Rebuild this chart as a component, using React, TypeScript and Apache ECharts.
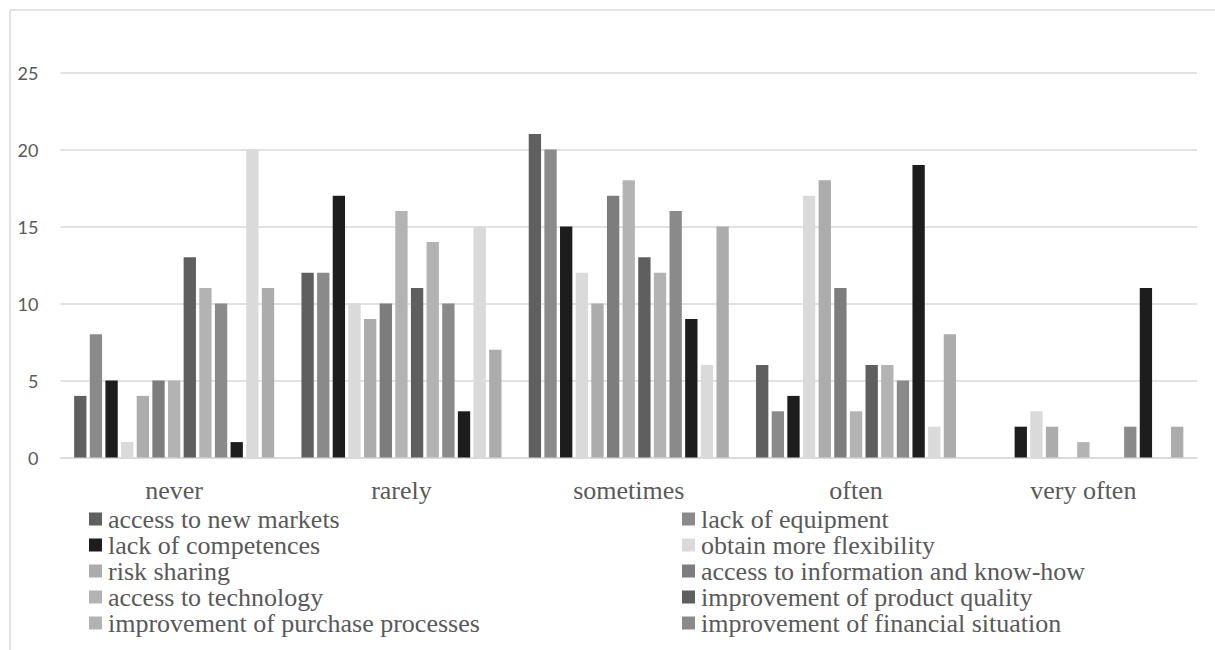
import React, { useEffect, useRef } from "react";
import * as echarts from "echarts";

// Answer categories on the x axis
const categories = ["never", "rarely", "sometimes", "often", "very often"];

// Motives (series), in plotting order
const seriesNames = [
  "access to new markets",
  "lack of equipment",
  "lack of competences",
  "obtain more flexibility",
  "risk sharing",
  "access to information and know-how",
  "access to technology",
  "improvement of product quality",
  "improvement of purchase processes",
  "improvement of financial situation",
  "reduction of costs",
  "access to financing",
  "other reasons",
];

const seriesColors = [
  "#5f5f5f",
  "#8a8a8a",
  "#1d1d1d",
  "#dadada",
  "#acacac",
  "#7d7d7d",
  "#b3b3b3",
  "#5f5f5f",
  "#b3b3b3",
  "#8a8a8a",
  "#1d1d1d",
  "#dadada",
  "#acacac",
];

// Counts per category (never, rarely, sometimes, often, very often)
const accessToNewMarkets = [4, 12, 21, 6, 0];
const lackOfEquipment = [8, 12, 20, 3, 0];
const lackOfCompetences = [5, 17, 15, 4, 2];
const obtainMoreFlexibility = [1, 10, 12, 17, 3];
const riskSharing = [4, 9, 10, 18, 2];
const accessToInformation = [5, 10, 17, 11, 0];
const accessToTechnology = [5, 16, 18, 3, 1];
const productQuality = [13, 11, 13, 6, 0];
const purchaseProcesses = [11, 14, 12, 6, 0];
const financialSituation = [10, 10, 16, 5, 2];
const reductionOfCosts = [1, 3, 9, 19, 11];
const accessToFinancing = [20, 15, 6, 2, 0];
const otherReasons = [11, 7, 15, 8, 2];

const seriesValues = [
  accessToNewMarkets,
  lackOfEquipment,
  lackOfCompetences,
  obtainMoreFlexibility,
  riskSharing,
  accessToInformation,
  accessToTechnology,
  productQuality,
  purchaseProcesses,
  financialSituation,
  reductionOfCosts,
  accessToFinancing,
  otherReasons,
];

// Y axis range
const yMin = 0;
const yMax = 25;
const yStep = 5;

const serif = "'Liberation Serif', 'Times New Roman', serif";
const textGray = "#595959";
const lineGray = "#d9d9d9";

// Two-column legend layout
const legendTop = 506;
const legendRow = 26;
const legendIcon = 13;
const legendColumnsX = [89, 682];

export default function App() {
  const ref = useRef<HTMLDivElement>(null);

  useEffect(() => {
    document.body.style.margin = "0";
    if (!ref.current) return;
    const chart = echarts.init(ref.current, null, { renderer: "svg" });

    // Only the first ten motives are listed, split over two columns
    const shown = seriesNames.slice(0, 10);
    const columns = [0, 1].map((c) => shown.filter((_, i) => i % 2 === c));

    const legends = columns.map((names, c) => ({
      orient: "vertical" as const,
      left: legendColumnsX[c],
      top: legendTop,
      itemWidth: legendIcon,
      itemHeight: legendIcon,
      itemGap: 0,
      icon: "rect",
      selectedMode: false,
      padding: 0,
      textStyle: {
        fontFamily: serif,
        fontSize: 26,
        lineHeight: legendRow,
        color: textGray,
        padding: [0, 0, 0, 1],
      },
      data: names,
    }));

    chart.setOption({
      animation: false,
      backgroundColor: "#ffffff",
      grid: { left: 60.5, right: 18, top: 72.5, bottom: 192.5 },
      xAxis: {
        type: "category",
        data: categories,
        axisLine: { lineStyle: { color: lineGray, width: 1.5 } },
        axisTick: { show: false },
        axisLabel: {
          fontFamily: serif,
          fontSize: 26,
          color: textGray,
          margin: 20,
        },
      },
      yAxis: {
        type: "value",
        min: yMin,
        max: yMax,
        interval: yStep,
        axisLine: { show: false },
        axisTick: { show: false },
        splitLine: { lineStyle: { color: lineGray, width: 1.5 } },
        axisLabel: {
          fontFamily: "Lato",
          fontSize: 18,
          color: textGray,
          margin: 22,
        },
      },
      legend: legends,
      graphic: [
        {
          type: "line",
          shape: { x1: 10, y1: 10, x2: 1215, y2: 10 },
          style: { stroke: lineGray, lineWidth: 1.5 },
        },
        {
          type: "line",
          shape: { x1: 10, y1: 10, x2: 10, y2: 650 },
          style: { stroke: lineGray, lineWidth: 1.5 },
        },
      ],
      series: seriesNames.map((name, i) => ({
        name,
        type: "bar",
        data: seriesValues[i],
        barGap: "27%",
        barCategoryGap: "12%",
        itemStyle: { color: seriesColors[i] },
      })),
    });

    return () => chart.dispose();
  }, []);

  return (
    <div
      ref={ref}
      style={{ position: "absolute", left: 0, top: 0, width: 1215, height: 650 }}
    />
  );
}
